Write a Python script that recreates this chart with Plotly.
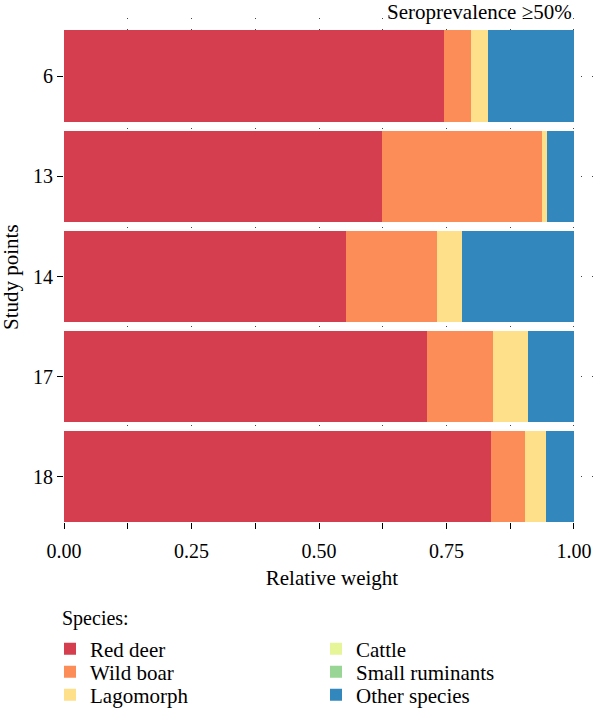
import plotly.graph_objects as go

study_points = ["6", "13", "14", "17", "18"]
species = ["Red deer", "Wild boar", "Lagomorph", "Cattle", "Small ruminants", "Other species"]
red_deer = [0.745, 0.623, 0.553, 0.712, 0.838]
wild_boar = [0.053, 0.315, 0.178, 0.129, 0.066]
lagomorph = [0.033, 0.010, 0.050, 0.069, 0.042]
cattle = [0.0, 0.0, 0.0, 0.0, 0.0]
small_ruminants = [0.0, 0.0, 0.0, 0.0, 0.0]
other_species = [0.169, 0.052, 0.219, 0.090, 0.054]
tick_vals = [0, 0.125, 0.25, 0.375, 0.5, 0.625, 0.75, 0.875, 1.0]
tick_text = ["0.00", "", "0.25", "", "0.50", "", "0.75", "", "1.00"]

colors = ["#D53E4F", "#FC8D59", "#FEE08B", "#E6F598", "#99D594", "#3288BD"]
values = [red_deer, wild_boar, lagomorph, cattle, small_ruminants, other_species]

FONT = "Liberation Serif"
W, H = 600, 708
ML, MR, MT, MB = 64, 0, 18, 186

# legend layout: 2 columns x 3 rows, column-major (one single-entry legend per slot)
legend_ids = ["legend", "legend2", "legend3", "legend4", "legend5", "legend6"]
slot_x = [50, 50, 50, 316, 316, 316]
slot_y = [649, 672, 695, 649, 672, 695]

fig = go.Figure()
for name, vals, col, lg in zip(species, values, colors, legend_ids):
    fig.add_trace(go.Bar(
        y=study_points, x=vals, name=name, orientation="h",
        marker=dict(color=col, line=dict(width=0)),
        width=0.91, legend=lg,
    ))

def leg(px, py):
    return dict(
        orientation="v", xref="container", yref="container",
        x=px / W, y=1 - py / H, xanchor="left", yanchor="middle",
        font=dict(size=21, family=FONT), tracegroupgap=0,
        bgcolor="rgba(0,0,0,0)", itemclick=False, itemdoubleclick=False,
    )

legends = {lg: leg(px, py) for lg, px, py in zip(legend_ids, slot_x, slot_y)}

fig.update_layout(
    width=W, height=H,
    margin=dict(l=ML, r=MR, t=MT, b=MB, autoexpand=False),
    barmode="stack",
    plot_bgcolor="white", paper_bgcolor="white",
    font=dict(family=FONT, size=20, color="black"),
    showlegend=True,
    xaxis=dict(
        range=[0, 1.051], tickvals=tick_vals, ticktext=tick_text,
        ticks="outside", ticklen=6, tickcolor="black", tickwidth=1,
        ticklabelstandoff=5, tickfont=dict(size=20),
        showgrid=True, gridcolor="#444", gridwidth=1, griddash="1px,10px",
        zeroline=False, showline=False,
        title=dict(text="Relative weight", standoff=9, font=dict(size=21)),
    ),
    yaxis=dict(
        categoryorder="array", categoryarray=study_points,
        range=[4.449, -0.579],
        ticks="outside", ticklen=6, tickcolor="black", tickwidth=1,
        tickfont=dict(size=20),
        showgrid=True, gridcolor="#444", gridwidth=1, griddash="1px,10px",
        zeroline=False, showline=False,
    ),
    **legends,
)

plot_top, plot_bot = MT, H - MB
plot_w = W - ML - MR
def paper_y(py):
    return (plot_bot - py) / (plot_bot - plot_top)
def paper_x(px):
    return (px - ML) / plot_w

fig.add_annotation(
    text="Seroprevalence ≥50%", x=1.0, xref="x", xanchor="right",
    y=paper_y(12), yref="paper", yanchor="middle",
    showarrow=False, font=dict(size=21, family=FONT),
)
fig.add_annotation(
    text="Study points", textangle=-90, x=paper_x(11), xref="paper", xanchor="center",
    y=paper_y(277), yref="paper", yanchor="middle",
    showarrow=False, font=dict(size=21, family=FONT),
)
fig.add_annotation(
    text="Species:", x=0, xref="paper", xanchor="left", xshift=-4,
    y=paper_y(618), yref="paper", yanchor="middle",
    showarrow=False, font=dict(size=20, family=FONT),
)

fig.write_html("out.html")
